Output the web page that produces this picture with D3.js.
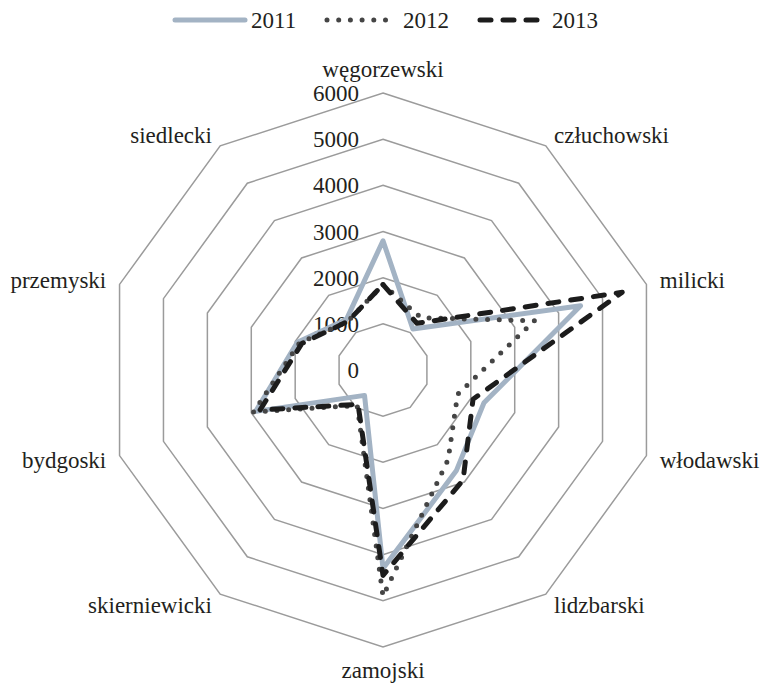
<!DOCTYPE html>
<html>
<head>
<meta charset="utf-8">
<script src="https://cdn.jsdelivr.net/npm/d3@7"></script>
<style>
  body { margin: 0; background: #fff; }
  text { font-family: 'Liberation Serif', 'Times New Roman', serif; fill: #231f20; }
</style>
</head>
<body>
<div id="chart"></div>
<script>
const width = 763;
const height = 683;
const cx = 383;
const cy = 370;
const outerRadius = 277;

const categories = ['węgorzewski', 'człuchowski', 'milicki', 'włodawski', 'lidzbarski',
  'zamojski', 'skierniewicki', 'bydgoski', 'przemyski', 'siedlecki'];
const years = ['2011', '2012', '2013'];
const values2011 = [2800, 1100, 4500, 2300, 2700, 4300, 680, 2900, 1950, 1350];
const values2012 = [1850, 1400, 3450, 1700, 2400, 4900, 950, 2950, 1900, 1300];
const values2013 = [1850, 1250, 5450, 2050, 2950, 4450, 920, 2800, 1850, 1300];
const tickValues = [0, 1000, 2000, 3000, 4000, 5000, 6000];

const seriesValues = [values2011, values2012, values2013];
const styles = [
  { color: '#a3b3c4', width: 5, dash: null, cap: 'round' },
  { color: '#454545', width: 5, dash: '0, 11.7', cap: 'round' },
  { color: '#1c1c1c', width: 5, dash: '11, 12', cap: 'round' },
];

const svg = d3.select('#chart')
  .append('svg')
  .attr('width', width)
  .attr('height', height);

const rScale = d3.scaleLinear().domain([0, 6000]).range([0, outerRadius]);
const angle = d3.scaleLinear().domain([0, categories.length]).range([0, 2 * Math.PI]);

const g = svg.append('g').attr('transform', `translate(${cx}, ${cy})`);

const radial = d3.lineRadial()
  .angle((d, i) => angle(i))
  .radius((d) => rScale(d))
  .curve(d3.curveLinearClosed);

// grid rings
g.append('g')
  .selectAll('path')
  .data(tickValues.filter((t) => t > 0))
  .enter()
  .append('path')
  .attr('d', (t) => radial(categories.map(() => t)))
  .attr('fill', 'none')
  .attr('stroke', '#9b9b9b')
  .attr('stroke-width', 1.5);

// value labels along the top axis
g.append('g')
  .selectAll('text')
  .data(tickValues)
  .enter()
  .append('text')
  .attr('x', -24)
  .attr('y', (t) => -rScale(t))
  .attr('dy', '0.35em')
  .attr('text-anchor', 'end')
  .style('font-size', '23px')
  .text((t) => t);

// category labels
g.append('g')
  .selectAll('text')
  .data(categories)
  .enter()
  .append('text')
  .each(function (d, i) {
    const a = angle(i);
    const s = Math.sin(a);
    const c = Math.cos(a);
    const r = outerRadius + 14;
    let x = r * s;
    let y = -r * c;
    let anchor = 'middle';
    if (s > 0.1) anchor = 'start';
    else if (s < -0.1) anchor = 'end';
    else y += c > 0 ? -10 : 9;
    d3.select(this)
      .attr('x', x)
      .attr('y', y)
      .attr('dy', '0.35em')
      .attr('text-anchor', anchor);
  })
  .style('font-size', '23px')
  .text((d) => d);

// series
g.append('g')
  .selectAll('path')
  .data(seriesValues)
  .enter()
  .append('path')
  .attr('d', (d) => radial(d))
  .attr('fill', 'none')
  .attr('stroke', (d, i) => styles[i].color)
  .attr('stroke-width', (d, i) => styles[i].width)
  .attr('stroke-dasharray', (d, i) => styles[i].dash)
  .attr('stroke-linecap', (d, i) => styles[i].cap)
  .attr('stroke-linejoin', 'round');

// legend
const legendX = [175, 327, 480];
const legend = svg.append('g')
  .selectAll('g')
  .data(years)
  .enter()
  .append('g')
  .attr('transform', (d, i) => `translate(${legendX[i]}, 20)`);

legend.append('line')
  .attr('x1', 0)
  .attr('x2', (d, i) => (i === 0 ? 70 : 60))
  .attr('y1', 0)
  .attr('y2', 0)
  .attr('stroke', (d, i) => styles[i].color)
  .attr('stroke-width', (d, i) => styles[i].width)
  .attr('stroke-dasharray', (d, i) => styles[i].dash)
  .attr('stroke-linecap', (d, i) => styles[i].cap);

legend.append('text')
  .attr('x', (d, i) => [76, 76, 72][i])
  .attr('y', 0)
  .attr('dy', '0.35em')
  .style('font-size', '23px')
  .text((d) => d);
</script>
</body>
</html>
